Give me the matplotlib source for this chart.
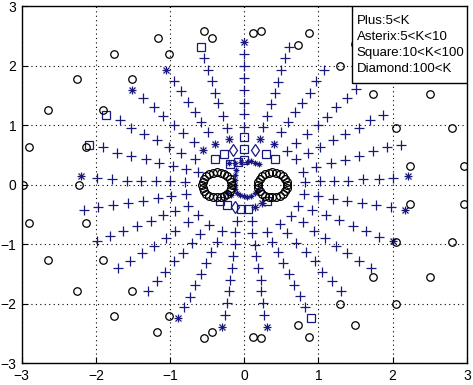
import matplotlib
matplotlib.use("Agg")
import matplotlib.pyplot as plt
from matplotlib.patches import Rectangle

# ── Values (data units) ──────────────────────────────────────────────────────

# "+" markers, ray by ray from the outer end towards the centre
plus_pts = [
    # upper-left, nearly horizontal
    (-1.99, 0.11), (-1.79, 0.10), (-1.58, 0.07), (-1.39, 0.07), (-1.19, 0.06),
    (-1.00, 0.06), (-0.80, 0.04),
    (-1.90, 0.63), (-1.71, 0.54), (-1.53, 0.49), (-1.33, 0.43), (-1.15, 0.36),
    (-0.96, 0.31), (-0.78, 0.26), (-0.62, 0.21),
    (-1.68, 1.08), (-1.53, 0.96), (-1.35, 0.85), (-1.18, 0.75), (-1.01, 0.64),
    (-0.85, 0.54), (-0.67, 0.44),
    (-1.37, 1.45), (-1.22, 1.30), (-1.09, 1.15), (-0.95, 1.01), (-0.82, 0.87),
    (-0.68, 0.72),
    (-0.95, 1.75), (-0.85, 1.58), (-0.76, 1.39), (-0.67, 1.23), (-0.58, 1.06),
    (-0.49, 0.89),
    (-0.55, 2.13), (-0.49, 1.93), (-0.44, 1.74), (-0.39, 1.55), (-0.35, 1.37),
    (-0.29, 1.16), (-0.23, 0.96),
    # vertical
    (0.00, 2.20), (0.00, 2.00), (0.00, 1.79), (0.00, 1.59), (0.00, 1.38),
    (0.00, 1.19), (0.00, 0.97),
    # upper-right
    (0.60, 2.32), (0.55, 2.13), (0.50, 1.93), (0.45, 1.73), (0.41, 1.54),
    (0.36, 1.36), (0.31, 1.16), (0.25, 0.97),
    (1.07, 1.93), (0.97, 1.74), (0.88, 1.55), (0.78, 1.38), (0.68, 1.22),
    (0.59, 1.06), (0.49, 0.89),
    (1.51, 1.61), (1.39, 1.46), (1.24, 1.30), (1.11, 1.14), (0.99, 1.01),
    (0.85, 0.85), (0.70, 0.71), (0.57, 0.57),
    (1.87, 1.17), (1.69, 1.09), (1.54, 0.96), (1.36, 0.85), (1.20, 0.75),
    (1.02, 0.64), (0.86, 0.53), (0.70, 0.43),
    (2.11, 0.67), (1.92, 0.63), (1.73, 0.56), (1.54, 0.49), (1.36, 0.41),
    (1.17, 0.36), (0.97, 0.30), (0.79, 0.21),
    (2.01, 0.12), (1.81, 0.10), (1.60, 0.09), (1.40, 0.07), (1.21, 0.06),
    (1.02, 0.06), (0.82, 0.04),
    # lower-left
    (-2.16, -0.43), (-1.97, -0.37), (-1.77, -0.34), (-1.57, -0.31), (-1.37, -0.28),
    (-1.17, -0.22), (-0.99, -0.18), (-0.79, -0.16),
    (-1.99, -0.94), (-1.81, -0.86), (-1.64, -0.78), (-1.45, -0.70), (-1.26, -0.60),
    (-1.09, -0.51), (-0.93, -0.44), (-0.76, -0.35),
    (-1.70, -1.40), (-1.54, -1.28), (-1.38, -1.14), (-1.22, -1.03), (-1.06, -0.90),
    (-0.93, -0.77), (-0.76, -0.63), (-0.62, -0.50),
    (-1.30, -1.78), (-1.18, -1.61), (-1.07, -1.46), (-0.95, -1.28), (-0.82, -1.14),
    (-0.70, -0.98), (-0.60, -0.83), (-0.47, -0.67),
    (-0.81, -2.05), (-0.73, -1.88), (-0.66, -1.69), (-0.58, -1.50), (-0.51, -1.31),
    (-0.45, -1.13), (-0.37, -0.96), (-0.30, -0.78),
    (-0.26, -2.19), (-0.23, -1.99), (-0.20, -1.79), (-0.19, -1.60), (-0.17, -1.40),
    (-0.15, -1.20), (-0.13, -1.00), (-0.12, -0.80), (-0.10, -0.60),
    # lower-right
    (0.27, -2.19), (0.25, -1.99), (0.23, -1.79), (0.22, -1.60), (0.19, -1.40),
    (0.16, -1.20), (0.14, -1.01), (0.10, -0.81), (0.10, -0.61),
    (0.82, -2.05), (0.75, -1.87), (0.67, -1.69), (0.60, -1.50), (0.52, -1.31),
    (0.46, -1.13), (0.37, -0.96), (0.30, -0.79),
    (1.30, -1.78), (1.18, -1.61), (1.05, -1.46), (0.95, -1.28), (0.83, -1.13),
    (0.70, -0.97), (0.58, -0.81), (0.48, -0.66),
    (1.71, -1.40), (1.55, -1.28), (1.39, -1.15), (1.24, -1.03), (1.09, -0.90),
    (0.94, -0.77), (0.79, -0.63), (0.63, -0.52),
    (1.81, -0.87), (1.64, -0.77), (1.46, -0.69), (1.27, -0.59), (1.10, -0.51),
    (0.91, -0.43), (0.73, -0.35),
    (1.98, -0.37), (1.77, -0.34), (1.58, -0.31), (1.39, -0.28), (1.20, -0.24),
    (1.00, -0.18), (0.81, -0.16),
]

# "*" markers (5<K<10)
asterisk_pts = [
    (0.00, 2.39), (-1.06, 1.93), (-1.51, 1.59), (-2.20, 0.14), (2.21, 0.14),
    (-0.56, 0.58), (-0.39, 0.69), (-0.20, 0.77), (0.21, 0.77), (0.40, 0.69),
    (-0.90, -2.23), (-0.30, -2.38), (0.30, -2.39), (2.01, -0.94), (2.17, -0.43),
    (0.15, -0.37), (0.24, -0.31),
]

# small blue asterisks forming the "smile" near the origin
smile_pts = [
    (-0.20, 0.36), (-0.12, 0.37), (-0.04, 0.38), (0.04, 0.39), (0.09, 0.40),
    (0.14, 0.37), (0.20, 0.35),
    (-0.11, 0.25), (-0.12, 0.17), (-0.13, 0.08), (-0.13, 0.00), (-0.12, -0.07),
    (-0.10, -0.13), (-0.06, -0.17), (-0.01, -0.19), (0.04, -0.20), (0.09, -0.18),
    (0.14, -0.14), (0.18, -0.09), (-0.24, -0.14), (-0.18, -0.17),
]

# squares (10<K<100)
square_pts = [
    (-0.59, 2.31), (-1.86, 1.17), (-2.09, 0.67), (0.90, -2.23),
    (0.00, 0.80), (0.00, 0.60), (0.00, 0.41), (-0.28, 0.52), (0.29, 0.52),
    (-0.40, 0.43), (0.41, 0.44), (-0.09, 0.39), (-0.19, 0.35),
    (-0.33, -0.27), (-0.24, -0.34), (-0.05, -0.41), (0.05, -0.41), (0.30, -0.28),
]

# diamonds (100<K)
diamond_pts = [(-0.15, 0.58), (0.15, 0.58), (-0.13, -0.38)]

# open circles scattered near the border
circle_pts = [
    (-0.54, 2.58), (-0.43, 2.47), (-1.17, 2.47), (-1.02, 2.20), (-1.76, 2.20),
    (-1.51, 1.78), (-2.26, 1.78), (-1.90, 1.26), (-2.65, 1.25), (-2.14, 0.64),
    (-2.90, 0.64), (-2.23, 0.00), (-2.98, 0.00),
    (0.12, 2.55), (0.22, 2.58), (0.73, 2.35), (0.87, 2.55), (1.29, 2.00),
    (1.49, 2.36), (1.74, 1.52), (2.04, 2.01), (2.04, 0.96), (2.50, 1.52),
    (2.23, 0.32), (2.80, 0.96), (2.96, 0.32),
    (-2.90, -0.64), (-2.14, -0.64), (-2.65, -1.27), (-1.90, -1.27), (-2.26, -1.78),
    (-1.51, -1.78), (-1.76, -2.20), (-1.02, -2.20), (-1.18, -2.47), (-0.54, -2.58),
    (-0.43, -2.47),
    (2.23, -0.33), (2.96, -0.33), (2.05, -0.96), (2.80, -0.96), (1.74, -1.54),
    (2.50, -1.54), (1.29, -2.01), (2.04, -2.01), (0.73, -2.36), (1.49, -2.36),
    (0.87, -2.55), (0.12, -2.55), (0.22, -2.58),
]

# the two rings of circles around (-0.37, 0) and (0.38, 0)
ring_left = [
    (-0.170, 0.000), (-0.177, 0.054), (-0.197, 0.105), (-0.229, 0.148),
    (-0.270, 0.182), (-0.318, 0.203), (-0.370, 0.210), (-0.422, 0.203),
    (-0.470, 0.182), (-0.511, 0.148), (-0.543, 0.105), (-0.563, 0.054),
    (-0.570, 0.000), (-0.563, -0.054), (-0.543, -0.105), (-0.511, -0.148),
    (-0.470, -0.182), (-0.422, -0.203), (-0.370, -0.210), (-0.318, -0.203),
    (-0.270, -0.182), (-0.229, -0.148), (-0.197, -0.105), (-0.177, -0.054),
]
ring_right = [
    (0.580, 0.000), (0.573, 0.054), (0.553, 0.105), (0.521, 0.148),
    (0.480, 0.182), (0.432, 0.203), (0.380, 0.210), (0.328, 0.203),
    (0.280, 0.182), (0.239, 0.148), (0.207, 0.105), (0.187, 0.054),
    (0.180, 0.000), (0.187, -0.054), (0.207, -0.105), (0.239, -0.148),
    (0.280, -0.182), (0.328, -0.203), (0.380, -0.210), (0.432, -0.203),
    (0.480, -0.182), (0.521, -0.148), (0.553, -0.105), (0.573, -0.054),
]

legend_lines = ["Plus:5<K", "Asterix:5<K<10", "Square:10<K<100", "Diamond:100<K"]
ticks = [-3, -2, -1, 0, 1, 2, 3]

BLUE = "#18187e"


def xy(pts):
    return [p[0] for p in pts], [p[1] for p in pts]


fig = plt.figure(figsize=(4.73, 3.85), dpi=100)
ax = fig.add_axes([0.046, 0.056, 0.941, 0.928])

# rings and outer circles
for pts in (ring_left, ring_right):
    x, y = xy(pts)
    ax.plot(x, y, "o", ms=5.6, mfc="none", mec="black", mew=0.9, zorder=3)
x, y = xy(circle_pts)
ax.plot(x, y, "o", ms=5.4, mfc="none", mec="black", mew=0.9, zorder=3)

x, y = xy(plus_pts)
ax.plot(x, y, "+", ms=6.5, mec=BLUE, mew=0.9, zorder=2)

# matlab style asterisk = plus + cross
x, y = xy(asterisk_pts)
ax.plot(x, y, "+", ms=5.5, mec=BLUE, mew=0.9, zorder=2)
ax.plot(x, y, "x", ms=4.2, mec=BLUE, mew=0.9, zorder=2)
x, y = xy(smile_pts)
ax.plot(x, y, "+", ms=4.0, mec=BLUE, mew=0.8, zorder=2)
ax.plot(x, y, "x", ms=3.0, mec=BLUE, mew=0.8, zorder=2)

x, y = xy(square_pts)
ax.plot(x, y, "s", ms=5.8, mfc="none", mec=BLUE, mew=0.9, zorder=2)
x, y = xy(diamond_pts)
ax.plot(x, y, "d", ms=6.0, mfc="none", mec=BLUE, mew=0.9, zorder=2)

ax.set_xlim(-3, 3)
ax.set_ylim(-3, 3)
ax.set_xticks(ticks)
ax.set_yticks(ticks)
ax.grid(True, color="black", linestyle=(0, (1, 3)), linewidth=0.8)
ax.set_axisbelow(True)
ax.tick_params(direction="in", length=4, width=0.8, labelsize=10, pad=4)
for lab in ax.get_xticklabels() + ax.get_yticklabels():
    lab.set_fontfamily("Liberation Sans")
for sp in ax.spines.values():
    sp.set_linewidth(1.0)

# legend box as plain text, like the original
ax.add_patch(Rectangle((0.742, 0.786), 0.258, 0.214, transform=ax.transAxes,
                       facecolor="white", edgecolor="black", lw=1.0, zorder=5))
for i, txt in enumerate(legend_lines):
    ax.text(0.753, 0.959 - i * 0.045, txt, transform=ax.transAxes,
            ha="left", va="center", fontsize=9.5, family="Liberation Sans",
            zorder=6)

fig.savefig("out.png", dpi=100)
